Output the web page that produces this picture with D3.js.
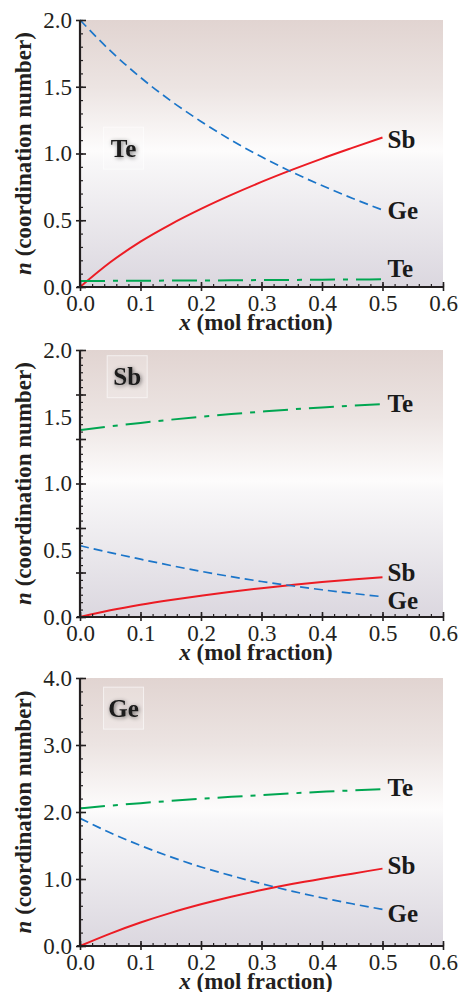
<!DOCTYPE html>
<html>
<head>
<meta charset="utf-8">
<script src="https://cdn.jsdelivr.net/npm/d3@7"></script>
<style>
  html, body { margin: 0; padding: 0; background: #ffffff; }
  svg { display: block; }
</style>
</head>
<body>
<svg id="chart" width="462" height="992"></svg>
<script>
// ---------------- DATA ----------------
const xValues = [0, 0.05, 0.1, 0.15, 0.2, 0.25, 0.3, 0.35, 0.4, 0.45, 0.5];

// Panel 1: around Te
const teGe = [2.0, 1.77, 1.57, 1.395, 1.24, 1.10, 0.975, 0.862, 0.76, 0.665, 0.577];
const teSb = [0.0, 0.185, 0.34, 0.47, 0.585, 0.69, 0.787, 0.877, 0.962, 1.042, 1.12];
const teTe = [0.045, 0.046, 0.047, 0.048, 0.049, 0.05, 0.052, 0.053, 0.055, 0.056, 0.058];

// Panel 2: around Sb
const sbTe = [1.40, 1.428, 1.454, 1.478, 1.50, 1.52, 1.538, 1.555, 1.570, 1.583, 1.595];
const sbGe = [0.534, 0.482, 0.433, 0.386, 0.342, 0.302, 0.266, 0.234, 0.204, 0.177, 0.152];
const sbSb = [0.0, 0.05, 0.092, 0.128, 0.16, 0.19, 0.216, 0.24, 0.262, 0.28, 0.297];

// Panel 3: around Ge
const geTe = [2.055, 2.095, 2.132, 2.166, 2.197, 2.226, 2.253, 2.278, 2.301, 2.322, 2.34];
const geGe = [1.906, 1.69, 1.50, 1.33, 1.18, 1.05, 0.93, 0.82, 0.72, 0.63, 0.547];
const geSb = [0.0, 0.185, 0.35, 0.495, 0.622, 0.735, 0.835, 0.925, 1.005, 1.08, 1.155];

// Axis tick labels
const xTickLabels = [0, 0.1, 0.2, 0.3, 0.4, 0.5, 0.6];
const yLabels12 = [0, 0.5, 1.0, 1.5, 2.0];
const yLabels3 = [0, 1, 2, 3, 4];
const centerNames = ["Te", "Sb", "Ge"];
const xTitle = "(mol fraction)";
const yTitle = "(coordination number)";

// ---------------- LAYOUT ----------------
const svg = d3.select("#chart");
const left = 80, right = 443;
const x = d3.scaleLinear().domain([0, 0.6]).range([left, right]);

const FONT = '"Liberation Serif", "Times New Roman", serif';
const INK = "#231f20";
const colors = { Sb: "#ec1c24", Ge: "#1b75c9", Te: "#00a651" };
const dashes = { Sb: null, Ge: "9,5", Te: "25,8,5,8" };
const widths = { Sb: 2, Ge: 1.7, Te: 2 };

const range = (a, b, s) => { const out = []; for (let i = 0; a + i * s <= b + 1e-9; i++) out.push(+(a + i * s).toFixed(6)); return out; };

const panels = [
  { top: 20, bottom: 287, yMax: 2, labels: yLabels12, major: range(0, 2, 0.5), minor: range(0, 2, 0.1),
    center: centerNames[0], centerPos: [0.072, 1.04],
    series: [
      { name: "Sb", values: teSb, dy: 2 },
      { name: "Ge", values: teGe, dy: 0 },
      { name: "Te", values: teTe, dy: -11 }
    ] },
  { top: 350, bottom: 617, yMax: 2, labels: yLabels12, major: range(0, 2, 1/3), minor: range(0, 2, 1/18),
    center: centerNames[1], centerPos: [0.078, 1.80],
    series: [
      { name: "Te", values: sbTe, dy: -1 },
      { name: "Sb", values: sbSb, dy: -5 },
      { name: "Ge", values: sbGe, dy: 4 }
    ] },
  { top: 678, bottom: 946, yMax: 4, labels: yLabels3, major: range(0, 4, 1), minor: range(0, 4, 0.2),
    center: centerNames[2], centerPos: [0.072, 3.55],
    series: [
      { name: "Te", values: geTe, dy: -2 },
      { name: "Sb", values: geSb, dy: -3 },
      { name: "Ge", values: geGe, dy: 4 }
    ] }
];

// defs: gradient + glow filter
const defs = svg.append("defs");
const grad = defs.append("linearGradient").attr("id", "bg").attr("x1", 0).attr("y1", 0).attr("x2", 0).attr("y2", 1);
grad.append("stop").attr("offset", "0%").attr("stop-color", "#e1d4d1");
grad.append("stop").attr("offset", "25%").attr("stop-color", "#ece4e2");
grad.append("stop").attr("offset", "49%").attr("stop-color", "#fdfcfc");
grad.append("stop").attr("offset", "53%").attr("stop-color", "#f8f7f8");
grad.append("stop").attr("offset", "100%").attr("stop-color", "#dbd7df");

const filt = defs.append("filter").attr("id", "glow").attr("x", "-50%").attr("y", "-50%").attr("width", "200%").attr("height", "200%");
filt.append("feGaussianBlur").attr("in", "SourceAlpha").attr("stdDeviation", 2).attr("result", "blur");
filt.append("feOffset").attr("in", "blur").attr("dx", 1).attr("dy", 1).attr("result", "off");
filt.append("feComponentTransfer").attr("in", "off").attr("result", "soft")
  .append("feFuncA").attr("type", "linear").attr("slope", 0.55);
const merge = filt.append("feMerge");
merge.append("feMergeNode").attr("in", "soft");
merge.append("feMergeNode").attr("in", "SourceGraphic");

panels.forEach((p) => {
  const y = d3.scaleLinear().domain([0, p.yMax]).range([p.bottom, p.top]);
  const g = svg.append("g");

  // background
  g.append("rect").attr("x", left).attr("y", p.top).attr("width", right - left).attr("height", p.bottom - p.top)
    .attr("fill", "url(#bg)");

  // center atom label box
  const cx = x(p.centerPos[0]), cy = y(p.centerPos[1]);
  g.append("rect").attr("x", cx - 20).attr("y", cy - 21).attr("width", 40).attr("height", 42)
    .attr("fill", "#ffffff").attr("fill-opacity", 0.18).attr("stroke", "#ffffff").attr("stroke-opacity", 0.6).attr("stroke-width", 1);
  g.append("text").attr("x", cx).attr("y", cy).attr("dy", "0.35em").attr("text-anchor", "middle")
    .attr("font-family", FONT).attr("font-weight", "bold").attr("font-size", 25).attr("fill", "#1a1a1a")
    .attr("filter", "url(#glow)").text(p.center);

  // lines
  const line = d3.line().x((d, i) => x(xValues[i])).y(d => y(d)).curve(d3.curveMonotoneX);
  p.series.forEach(s => {
    g.append("path").datum(s.values).attr("d", line).attr("fill", "none")
      .attr("stroke", colors[s.name]).attr("stroke-width", widths[s.name])
      .attr("stroke-dasharray", dashes[s.name]);
    const last = s.values[s.values.length - 1];
    g.append("text").attr("x", x(xValues[xValues.length - 1]) + 5).attr("y", y(last) + s.dy).attr("dy", "0.35em")
      .attr("font-family", FONT).attr("font-weight", "bold").attr("font-size", 25).attr("fill", "#1a1a1a")
      .text(s.name);
  });

  // ---- Y axis ----
  const yAx = g.append("g").attr("transform", `translate(${left},0)`);
  yAx.append("g").call(d3.axisRight(y).tickValues(p.minor).tickSize(3).tickFormat(""))
    .call(a => a.select(".domain").remove()).selectAll("line").attr("stroke", INK).attr("stroke-width", 1.2);
  yAx.append("g").call(d3.axisRight(y).tickValues(p.major).tickSize(6).tickFormat(""))
    .call(a => a.select(".domain").remove()).selectAll("line").attr("stroke", INK).attr("stroke-width", 1.6);
  yAx.append("g").call(d3.axisLeft(y).tickValues(p.major).tickSize(4).tickFormat(""))
    .call(a => a.select(".domain").remove()).selectAll("line").attr("stroke", INK).attr("stroke-width", 1.6);
  const yl = yAx.append("g").call(d3.axisLeft(y).tickValues(p.labels).tickSize(0).tickPadding(8).tickFormat(d3.format(".1f")));
  yl.select(".domain").remove();
  yl.selectAll("text").attr("font-size", 23).attr("fill", INK).attr("font-family", FONT);
  yAx.append("line").attr("x1", 0).attr("x2", 0).attr("y1", p.top).attr("y2", p.bottom + 1)
    .attr("stroke", INK).attr("stroke-width", 2.2);

  // ---- X axis ----
  const xAx = g.append("g").attr("transform", `translate(0,${p.bottom})`);
  const xMinor = range(0, 0.6, 0.02);
  xAx.append("g").call(d3.axisTop(x).tickValues(xMinor).tickSize(3).tickFormat(""))
    .call(a => a.select(".domain").remove()).selectAll("line").attr("stroke", INK).attr("stroke-width", 1.2);
  xAx.append("g").call(d3.axisTop(x).tickValues(xTickLabels).tickSize(5).tickFormat(""))
    .call(a => a.select(".domain").remove()).selectAll("line").attr("stroke", INK).attr("stroke-width", 1.6);
  xAx.append("g").call(d3.axisBottom(x).tickValues(xTickLabels).tickSize(4).tickFormat(""))
    .call(a => a.select(".domain").remove()).selectAll("line").attr("stroke", INK).attr("stroke-width", 1.6);
  const xl = xAx.append("g").call(d3.axisBottom(x).tickValues(xTickLabels).tickSize(0).tickPadding(8).tickFormat(d3.format(".1f")));
  xl.select(".domain").remove();
  xl.selectAll("text").attr("font-size", 23).attr("fill", INK).attr("font-family", FONT);
  xAx.append("line").attr("x1", left - 3).attr("x2", right).attr("y1", 0).attr("y2", 0)
    .attr("stroke", INK).attr("stroke-width", 2.2);

  // ---- titles ----
  const xt = g.append("text").attr("x", 256).attr("y", p.bottom + 43).attr("text-anchor", "middle")
    .attr("font-family", FONT).attr("font-weight", "bold").attr("font-size", 23).attr("fill", INK);
  xt.append("tspan").attr("font-style", "italic").text("x");
  xt.append("tspan").text(" " + xTitle);

  const yt = g.append("text").attr("transform", `translate(31,${(p.top + p.bottom) / 2}) rotate(-90)`)
    .attr("text-anchor", "middle")
    .attr("font-family", FONT).attr("font-weight", "bold").attr("font-size", 23).attr("fill", INK);
  yt.append("tspan").attr("font-style", "italic").text("n");
  yt.append("tspan").text(" " + yTitle);
});
</script>
</body>
</html>
